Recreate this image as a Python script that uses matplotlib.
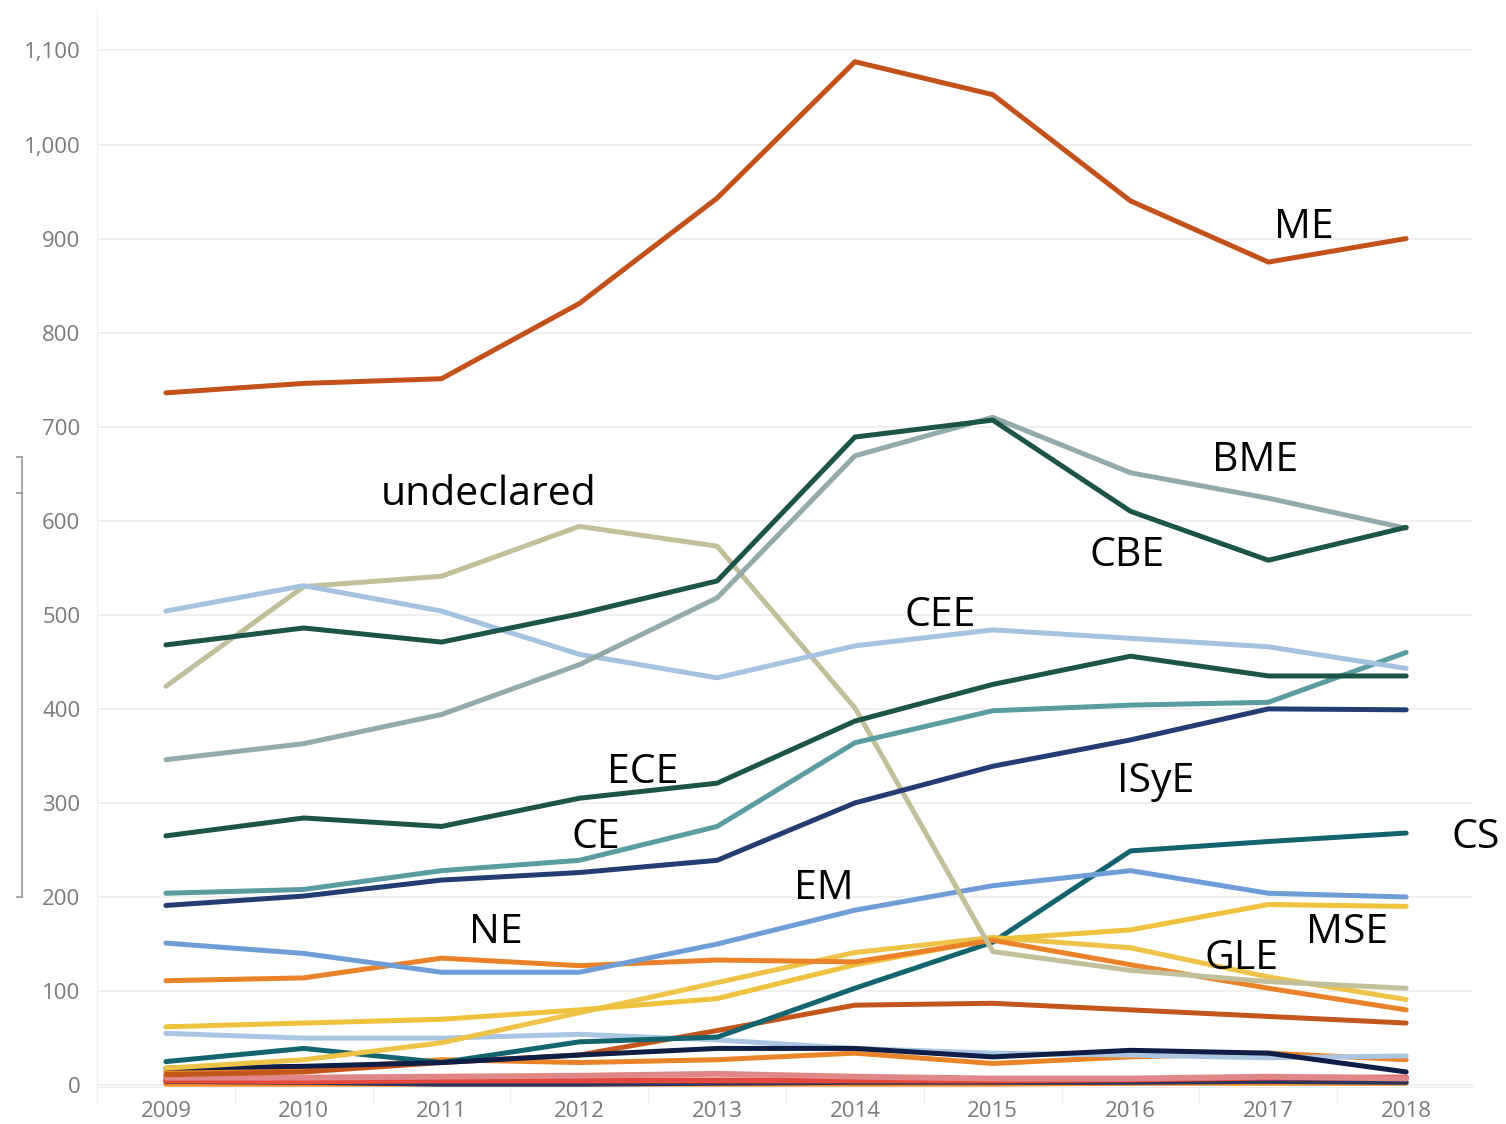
#!/usr/bin/env python3

import matplotlib.pyplot as plt
from matplotlib.lines import Line2D
from matplotlib.ticker import FuncFormatter

YEARS = [2009, 2010, 2011, 2012, 2013, 2014, 2015, 2016, 2017, 2018]

# labelled majors
ME = [736, 746, 751, 831, 943, 1088, 1053, 940, 875, 900]
BME = [346, 363, 394, 447, 518, 669, 710, 651, 624, 592]
CBE = [468, 486, 471, 501, 536, 689, 707, 610, 558, 593]
UNDECLARED = [424, 530, 541, 594, 573, 401, 142, 122, 110, 103]
CEE = [504, 531, 504, 458, 433, 467, 484, 475, 466, 443]
ECE = [265, 284, 275, 305, 321, 387, 426, 456, 435, 435]
CE = [204, 208, 228, 239, 275, 364, 398, 404, 407, 460]
ISYE = [191, 201, 218, 226, 239, 300, 339, 367, 400, 399]
CS = [25, 39, 24, 46, 51, 103, 152, 249, 259, 268]
EM = [151, 140, 120, 120, 150, 186, 212, 228, 204, 200]
NE = [111, 114, 135, 127, 133, 131, 154, 128, 103, 80]
MSE = [62, 66, 70, 80, 92, 128, 155, 165, 192, 190]
GLE = [18, 27, 45, 77, 109, 141, 157, 146, 115, 91]

# unlabelled small programmes near the bottom
LOW_LIGHTBLUE = [55, 50, 50, 54, 48, 39, 34, 32, 29, 31]
LOW_RUST = [11, 14, 24, 32, 58, 85, 87, 80, 73, 66]
LOW_ORANGE = [14, 16, 27, 24, 27, 34, 23, 30, 34, 27]
LOW_PINK = [8, 8, 9, 10, 12, 9, 7, 7, 9, 7]
LOW_RED = [5, 4, 5, 5, 5, 5, 5, 6, 8, 8]
LOW_DARK = [4, 3, 1, 1, 2, 3, 3, 3, 4, 3]
LOW_BOTTOM = [1, 1, 1, 1, 1, 1, 1, 2, 2, 2]
LOW_NAVY = [18, 20, 24, 32, 39, 39, 30, 37, 34, 14]

Y_TICKS = list(range(0, 1200, 100))

SERIES = [
    ("low_bottom", LOW_BOTTOM, "#F08A1E"),
    ("low_dark", LOW_DARK, "#2A3560"),
    ("low_red", LOW_RED, "#E4493D"),
    ("low_pink", LOW_PINK, "#E28787"),
    ("low_orange", LOW_ORANGE, "#EA8428"),
    ("low_lightblue", LOW_LIGHTBLUE, "#A8C6E2"),
    ("low_rust", LOW_RUST, "#C4561C"),
    ("CS", CS, "#13646F"),
    ("low_navy", LOW_NAVY, "#0E1E47"),
    ("GLE", GLE, "#EDC448"),
    ("MSE", MSE, "#EDC23C"),
    ("NE", NE, "#EB8229"),
    ("EM", EM, "#6F9ED6"),
    ("undeclared", UNDECLARED, "#C2C09A"),
    ("ISyE", ISYE, "#233D72"),
    ("CE", CE, "#5B9CA3"),
    ("ECE", ECE, "#1D5448"),
    ("CEE", CEE, "#A3C3E0"),
    ("BME", BME, "#93AAAA"),
    ("CBE", CBE, "#1D5448"),
    ("ME", ME, "#C4501A"),
]

# label anchor (left, baseline) in data coordinates
LABELS = {
    "ME": (2017.04, 901),
    "BME": (2016.59, 653),
    "undeclared": (2010.56, 617),
    "CBE": (2015.70, 552),
    "CEE": (2014.36, 488),
    "ECE": (2012.20, 321),
    "ISyE": (2015.90, 312),
    "CE": (2011.94, 252),
    "CS": (2018.33, 252),
    "EM": (2013.56, 198),
    "NE": (2011.20, 151),
    "MSE": (2017.27, 151),
    "GLE": (2016.54, 123),
}


def main() -> None:
    fig = plt.figure(figsize=(15.06, 11.24), dpi=100)
    ax = fig.add_axes([97 / 1506, 1 - 1087 / 1124, (1473 - 97) / 1506, (1087 - 10) / 1124])

    for name, vals, color in SERIES:
        lw = 4.2 if name in ("low_pink", "low_red") else 3.6
        ax.plot(YEARS, vals, color=color, linewidth=lw,
                solid_capstyle="round", solid_joinstyle="round")

    for name, (x, y) in LABELS.items():
        ax.text(x, y, name, fontsize=29.5, family="Open Sans", color="black",
                ha="left", va="baseline", clip_on=False)

    ax.set_xlim(2008.507, 2018.485)
    ax.set_ylim(-2, 1143)
    ax.set_xticks(YEARS)
    ax.set_xticks([y + 0.5 for y in YEARS[:-1]] + [2008.5], minor=True)
    ax.set_yticks(Y_TICKS)
    ax.yaxis.set_major_formatter(FuncFormatter(lambda v, p: f"{int(v):,}"))

    ax.tick_params(axis="both", which="major", length=0, labelsize=16,
                   labelcolor="#7a7a7a")
    ax.tick_params(axis="x", which="major", pad=10)
    ax.tick_params(axis="y", which="major", pad=12)
    ax.tick_params(axis="x", which="minor", length=12, color="#eeeeee", width=1)
    for lab in ax.get_xticklabels() + ax.get_yticklabels():
        lab.set_family("Open Sans")

    ax.grid(True, axis="y", color="#eeeeee", linewidth=1.2)
    ax.set_axisbelow(True)
    for side in ("top", "right"):
        ax.spines[side].set_visible(False)
    ax.spines["left"].set_color("#eeeeee")
    ax.spines["bottom"].set_color("#eeeeee")

    # grey selection bracket at the far left
    def px(x, y):
        return (x / 1506, 1 - y / 1124)

    for (x0, y0), (x1, y1) in [((22, 457), (22, 897)), ((17, 457), (22, 457)),
                               ((17, 897), (22, 897)), ((17, 493), (22, 493))]:
        a, b = px(x0, y0), px(x1, y1)
        fig.add_artist(Line2D([a[0], b[0]], [a[1], b[1]], color="#a0a0a0",
                              linewidth=1.3, transform=fig.transFigure))

    fig.savefig("out.png", dpi=100)
    plt.close(fig)


if __name__ == "__main__":
    main()
